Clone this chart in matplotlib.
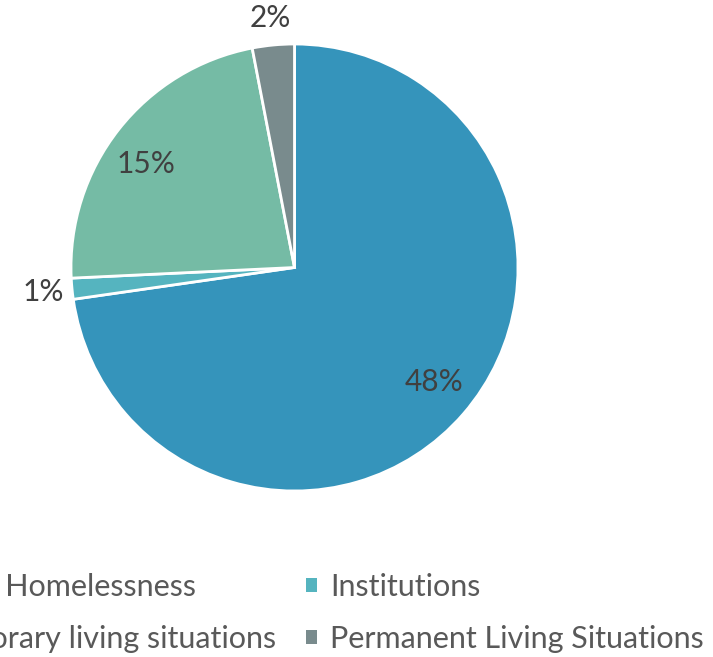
import matplotlib
matplotlib.use("Agg")
import matplotlib.pyplot as plt
from matplotlib.patches import Patch
import numpy as np

categories = ["Literal Homelessness", "Institutions", "Temporary living situations", "Permanent Living Situations"]
values = [48, 1, 15, 2]
labels = ["48%", "1%", "15%", "2%"]
colors = ["#3594BB", "#55B4BF", "#75BBA5", "#798B8D"]
label_dist = [0.81, 1.13, 0.81, 1.12]
label_rot = [1.5, 0.0, 3.5, 0.0]

W, H = 713, 657
fig = plt.figure(figsize=(W / 100, H / 100), dpi=100)
ax = fig.add_axes([0, 0, 1, 1])

cx, cy, r = 294.5, H - 267.5, 223.5
wedges, _ = ax.pie(values, colors=colors, startangle=90, counterclock=False,
                   center=(cx, cy), radius=r,
                   wedgeprops=dict(edgecolor="white", linewidth=2.0))
ax.set_xlim(0, W)
ax.set_ylim(0, H)
ax.set_aspect("auto")
ax.axis("off")

font = ["Lato", "DejaVu Sans"]
for w, lab, d, rot in zip(wedges, labels, label_dist, label_rot):
    ang = np.deg2rad((w.theta1 + w.theta2) / 2 + rot)
    ax.text(cx + d * r * np.cos(ang), cy + d * r * np.sin(ang), lab,
            ha="center", va="center", fontsize=21.5, color="#404040", family=font)

order = [0, 2, 1, 3]
handles = [Patch(facecolor=colors[i], edgecolor="none", label=categories[i]) for i in order]
leg = ax.legend(handles=handles, ncol=2, loc="upper right",
                bbox_to_anchor=(704 / W, 1 - 573 / H), frameon=False,
                borderaxespad=0, borderpad=0, handlelength=0.36, handleheight=0.36,
                handletextpad=0.45, columnspacing=0.95, labelspacing=0.78,
                prop=dict(family=font, size=22), labelcolor="#595959")

fig.savefig("out.png", dpi=100)
